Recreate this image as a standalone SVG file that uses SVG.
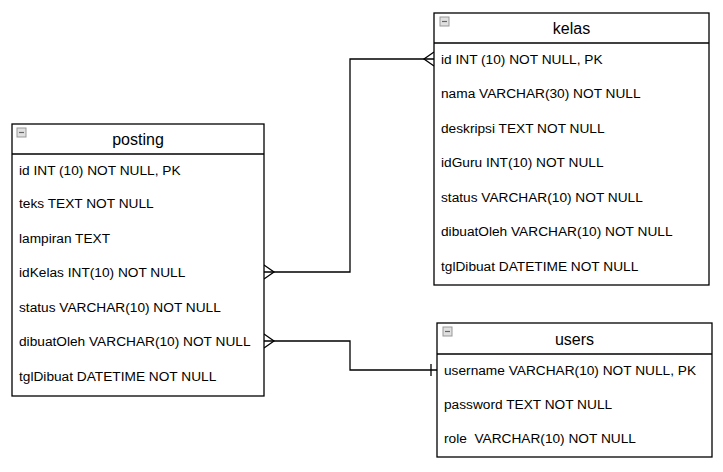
<svg xmlns="http://www.w3.org/2000/svg" width="723" height="472" viewBox="0 0 723 472">
<style>
.box{fill:#fff;stroke:#000;stroke-width:1.3}
.sep{stroke:#000;stroke-width:1.3}
.title{font-family:"Liberation Sans",Arial,sans-serif;font-size:16px;text-anchor:middle;fill:#000}
.row{font-family:"Liberation Sans",Arial,sans-serif;font-size:13.7px;fill:#000;white-space:pre}
.icon{fill:#e0e0e0;stroke:#999;stroke-width:1}
.iconbar{stroke:#666;stroke-width:1.2}
.conn{fill:none;stroke:#000;stroke-width:1.3}
</style>
<rect width="723" height="472" fill="#fff"/>
<g id="connectors">
<path class="conn" d="M264,272 H350 V59 H434"/>
<path class="conn" d="M264,265 L274,272 L264,279"/>
<path class="conn" d="M434,52 L424,59 L434,66"/>
<path class="conn" d="M264,341 H350 V370 H437"/>
<path class="conn" d="M264,334 L274,341 L264,348"/>
<path class="conn" d="M431,364 V376"/>
</g>
<g id="kelas">
<rect class="box" x="434" y="13" width="275" height="272"/>
<line class="sep" x1="434" y1="43" x2="709" y2="43"/>
<rect class="icon" x="440" y="17" width="9" height="9"/><line class="iconbar" x1="442" y1="21.5" x2="447" y2="21.5"/>
<text class="title" x="571.5" y="34">kelas</text>
<text class="row" x="441" y="63.5">id INT (10) NOT NULL, PK</text>
<text class="row" x="441" y="98">nama VARCHAR(30) NOT NULL</text>
<text class="row" x="441" y="132.5">deskripsi TEXT NOT NULL</text>
<text class="row" x="441" y="167">idGuru INT(10) NOT NULL</text>
<text class="row" x="441" y="201.5">status VARCHAR(10) NOT NULL</text>
<text class="row" x="441" y="236">dibuatOleh VARCHAR(10) NOT NULL</text>
<text class="row" x="441" y="270.5">tglDibuat DATETIME NOT NULL</text>
</g>
<g id="posting">
<rect class="box" x="12" y="124" width="252" height="272"/>
<line class="sep" x1="12" y1="154" x2="264" y2="154"/>
<rect class="icon" x="17" y="128" width="9" height="9"/><line class="iconbar" x1="19" y1="132.5" x2="24" y2="132.5"/>
<text class="title" x="138" y="145">posting</text>
<text class="row" x="19" y="174.5">id INT (10) NOT NULL, PK</text>
<text class="row" x="19" y="208">teks TEXT NOT NULL</text>
<text class="row" x="19" y="243">lampiran TEXT</text>
<text class="row" x="19" y="277">idKelas INT(10) NOT NULL</text>
<text class="row" x="19" y="312">status VARCHAR(10) NOT NULL</text>
<text class="row" x="19" y="346">dibuatOleh VARCHAR(10) NOT NULL</text>
<text class="row" x="19" y="381">tglDibuat DATETIME NOT NULL</text>
</g>
<g id="users">
<rect class="box" x="437" y="323" width="275" height="134"/>
<line class="sep" x1="437" y1="354" x2="712" y2="354"/>
<rect class="icon" x="443" y="327" width="9" height="9"/><line class="iconbar" x1="445" y1="331.5" x2="450" y2="331.5"/>
<text class="title" x="574.5" y="345">users</text>
<text class="row" x="444" y="374.5">username VARCHAR(10) NOT NULL, PK</text>
<text class="row" x="444" y="409">password TEXT NOT NULL</text>
<text class="row" x="444" y="443" xml:space="preserve">role  VARCHAR(10) NOT NULL</text>
</g>
</svg>
